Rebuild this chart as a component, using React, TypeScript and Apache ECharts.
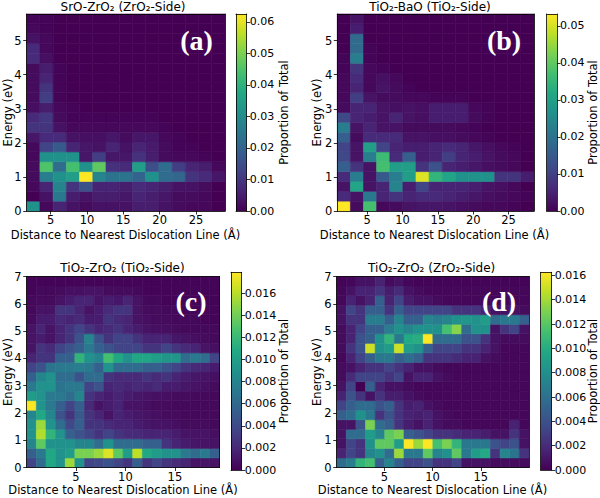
import React, { useEffect, useRef } from "react";
import * as echarts from "echarts";

const FONT = "DejaVu Sans";
const UNIT = 1e-4; // stored cell values are "proportion of total" x 10^4

const TITLES = ["SrO-ZrO₂ (ZrO₂-Side)", "TiO₂-BaO (TiO₂-Side)", "TiO₂-ZrO₂ (TiO₂-Side)", "TiO₂-ZrO₂ (ZrO₂-Side)"];
const TAGS = ["(a)", "(b)", "(c)", "(d)"];
const X_NAME = "Distance to Nearest Dislocation Line (Å)";
const Y_NAME = "Energy (eV)";
const CB_NAME = "Proportion of Total";

const X_TICKS_TOP = [5, 10, 15, 20, 25];
const X_TICKS_BOTTOM = [5, 10, 15];
const Y_TICKS_TOP = [0, 1, 2, 3, 4, 5];
const Y_TICKS_BOTTOM = [0, 1, 2, 3, 4, 5, 6, 7];
const CB_TICKS_A = [0, 0.01, 0.02, 0.03, 0.04, 0.05, 0.06];
const CB_TICKS_B = [0, 0.01, 0.02, 0.03, 0.04, 0.05];
const CB_TICKS_CD = [0, 0.002, 0.004, 0.006, 0.008, 0.01, 0.012, 0.014, 0.016];

// histogram ranges [min, max] and colour-scale maxima
const A_XRANGE = [1.7, 29.0];
const A_YRANGE = [0, 5.78];
const A_VMAX = 0.0625;
const B_XRANGE = [0.76, 28.6];
const B_YRANGE = [0, 5.78];
const B_VMAX = 0.0532;
const C_XRANGE = [0.04, 19.5];
const C_YRANGE = [0, 7];
const C_VMAX = 0.0179;
const D_XRANGE = [0.06, 20.0];
const D_YRANGE = [0, 7];
const D_VMAX = 0.01625;

// rows listed from the lowest energy bin (first) to the highest (last); x bins left to right
const A_VALUES = [
  [313, 13, 63, 31, 19, 31, 31, 31, 50, 50, 31, 19, 13, 13, 0],
  [0, 31, 250, 50, 31, 50, 50, 38, 63, 50, 38, 19, 19, 13, 0],
  [13, 63, 281, 94, 156, 63, 63, 50, 75, 63, 50, 31, 31, 19, 0],
  [19, 263, 313, 344, 625, 281, 238, 238, 200, 313, 219, 206, 94, 75, 38],
  [19, 450, 219, 438, 313, 469, 88, 75, 344, 150, 219, 113, 63, 50, 13],
  [13, 313, 313, 313, 38, 113, 38, 38, 88, 50, 19, 13, 13, 6, 0],
  [13, 125, 175, 63, 38, 31, 63, 31, 63, 44, 19, 6, 6, 0, 0],
  [38, 75, 75, 31, 25, 25, 38, 19, 38, 38, 13, 6, 0, 0, 0],
  [94, 94, 31, 13, 13, 13, 13, 13, 13, 13, 6, 0, 0, 0, 0],
  [75, 100, 19, 6, 6, 6, 6, 6, 6, 6, 0, 0, 0, 0, 0],
  [25, 50, 13, 6, 0, 0, 0, 0, 0, 0, 0, 0, 0, 0, 0],
  [19, 113, 6, 0, 0, 0, 0, 0, 0, 0, 0, 0, 0, 0, 0],
  [19, 94, 6, 0, 0, 0, 0, 0, 0, 0, 0, 0, 0, 0, 0],
  [19, 63, 6, 0, 0, 0, 0, 0, 0, 0, 0, 0, 0, 0, 0],
  [19, 50, 6, 0, 0, 0, 0, 0, 0, 0, 0, 0, 0, 0, 0],
  [75, 25, 0, 0, 0, 0, 0, 0, 0, 0, 0, 0, 0, 0, 0],
  [75, 13, 0, 0, 0, 0, 0, 0, 0, 0, 0, 0, 0, 0, 0],
  [31, 13, 0, 0, 0, 0, 0, 0, 0, 0, 0, 0, 0, 0, 0],
  [13, 6, 0, 0, 0, 0, 0, 0, 0, 0, 0, 0, 0, 0, 0],
  [6, 6, 0, 0, 0, 0, 0, 0, 0, 0, 0, 0, 0, 0, 0],
];

const B_VALUES = [
  [532, 16, 372, 11, 16, 27, 32, 32, 27, 21, 16, 11, 11, 5, 0],
  [64, 27, 213, 53, 80, 53, 64, 64, 53, 43, 32, 21, 16, 11, 5],
  [27, 309, 27, 53, 239, 43, 106, 53, 53, 53, 43, 27, 21, 11, 0],
  [64, 223, 27, 149, 223, 293, 505, 346, 309, 266, 266, 266, 80, 80, 43],
  [160, 80, 27, 372, 293, 293, 80, 133, 53, 43, 32, 21, 16, 11, 0],
  [117, 27, 223, 362, 64, 160, 43, 53, 96, 53, 43, 27, 16, 11, 0],
  [106, 27, 293, 106, 53, 43, 43, 53, 64, 53, 32, 21, 11, 5, 0],
  [160, 16, 64, 64, 64, 27, 27, 21, 21, 16, 11, 5, 0, 0, 0],
  [223, 27, 53, 27, 27, 16, 16, 16, 16, 11, 5, 0, 0, 0, 0],
  [117, 53, 43, 27, 53, 27, 21, 43, 43, 43, 16, 5, 0, 0, 0],
  [16, 53, 53, 27, 21, 27, 21, 43, 43, 43, 11, 5, 0, 0, 0],
  [11, 96, 27, 16, 16, 11, 11, 5, 5, 5, 0, 0, 0, 0, 0],
  [11, 53, 11, 27, 16, 5, 0, 0, 0, 0, 0, 0, 0, 0, 0],
  [11, 64, 11, 21, 11, 0, 0, 0, 0, 0, 0, 0, 0, 0, 0],
  [5, 80, 11, 5, 0, 0, 0, 0, 0, 0, 0, 0, 0, 0, 0],
  [5, 223, 5, 0, 0, 0, 0, 0, 0, 0, 0, 0, 0, 0, 0],
  [0, 186, 5, 0, 0, 0, 0, 0, 0, 0, 0, 0, 0, 0, 0],
  [0, 186, 0, 0, 0, 0, 0, 0, 0, 0, 0, 0, 0, 0, 0],
  [0, 43, 0, 0, 0, 0, 0, 0, 0, 0, 0, 0, 0, 0, 0],
  [0, 27, 0, 0, 0, 0, 0, 0, 0, 0, 0, 0, 0, 0, 0],
];

const C_VALUES = [
  [36, 63, 107, 90, 152, 90, 36, 39, 45, 36, 27, 54, 27, 36, 27, 21, 18, 9, 9, 9],
  [54, 72, 107, 90, 98, 143, 143, 152, 170, 134, 98, 161, 107, 98, 90, 90, 72, 63, 72, 54],
  [81, 134, 90, 90, 90, 81, 81, 63, 90, 63, 63, 63, 54, 54, 27, 18, 14, 11, 9, 9],
  [90, 158, 116, 90, 54, 45, 36, 27, 36, 27, 21, 21, 18, 18, 18, 14, 9, 9, 9, 7],
  [90, 152, 90, 63, 39, 54, 27, 27, 21, 18, 18, 14, 11, 9, 9, 7, 5, 5, 5, 4],
  [81, 107, 81, 45, 27, 50, 27, 18, 9, 18, 14, 11, 9, 7, 5, 5, 4, 4, 4, 4],
  [179, 90, 72, 54, 36, 54, 21, 9, 14, 18, 9, 9, 7, 5, 5, 4, 4, 4, 4, 4],
  [98, 90, 72, 72, 63, 81, 27, 18, 14, 18, 14, 11, 9, 7, 7, 5, 5, 4, 4, 4],
  [72, 90, 90, 68, 72, 72, 36, 45, 18, 21, 18, 21, 18, 21, 14, 14, 11, 9, 7, 5],
  [54, 81, 90, 63, 63, 45, 63, 63, 27, 21, 21, 21, 27, 21, 27, 18, 14, 11, 9, 7],
  [36, 45, 68, 72, 72, 75, 72, 54, 90, 63, 63, 63, 54, 54, 45, 36, 27, 21, 18, 14],
  [18, 27, 27, 54, 54, 116, 90, 81, 125, 107, 90, 107, 104, 98, 93, 93, 63, 72, 63, 36],
  [9, 27, 21, 36, 45, 54, 72, 54, 45, 36, 36, 36, 27, 27, 36, 27, 21, 18, 9, 7],
  [9, 14, 9, 18, 27, 45, 81, 45, 27, 36, 36, 27, 18, 18, 18, 11, 9, 7, 5, 4],
  [9, 18, 9, 18, 27, 36, 27, 18, 21, 27, 18, 14, 9, 7, 7, 5, 4, 4, 4, 4],
  [5, 14, 14, 21, 18, 21, 14, 14, 27, 21, 18, 9, 7, 5, 5, 4, 4, 4, 2, 2],
  [4, 9, 9, 27, 27, 18, 9, 14, 21, 27, 27, 9, 5, 5, 4, 4, 2, 2, 2, 2],
  [4, 5, 5, 9, 14, 18, 18, 9, 14, 11, 18, 9, 4, 4, 2, 2, 2, 2, 2, 2],
  [2, 4, 4, 5, 7, 7, 9, 9, 5, 5, 5, 4, 2, 2, 2, 2, 2, 2, 2, 2],
  [2, 2, 2, 2, 2, 2, 2, 2, 2, 2, 2, 2, 2, 2, 2, 2, 2, 2, 2, 2],
];

const D_VALUES = [
  [57, 68, 106, 114, 49, 73, 49, 33, 33, 41, 24, 24, 33, 8, 8, 8, 5, 5, 5, 5],
  [16, 33, 24, 73, 81, 57, 138, 65, 65, 122, 73, 81, 122, 65, 89, 98, 24, 73, 62, 24],
  [8, 33, 24, 81, 122, 122, 89, 162, 138, 162, 114, 130, 106, 65, 65, 65, 41, 33, 41, 8],
  [8, 57, 57, 89, 73, 122, 130, 49, 41, 33, 24, 24, 20, 16, 16, 13, 8, 8, 24, 8],
  [8, 8, 41, 130, 57, 49, 24, 13, 8, 16, 8, 5, 5, 3, 3, 3, 3, 3, 16, 3],
  [49, 57, 81, 65, 24, 41, 24, 16, 13, 16, 8, 5, 3, 3, 3, 3, 3, 3, 3, 3],
  [33, 49, 57, 57, 41, 49, 24, 13, 16, 8, 5, 3, 3, 3, 3, 3, 3, 3, 3, 3],
  [16, 41, 24, 8, 24, 13, 13, 8, 5, 3, 3, 3, 3, 3, 3, 3, 3, 3, 3, 3],
  [8, 33, 0, 49, 16, 8, 8, 5, 3, 3, 3, 3, 3, 3, 3, 3, 3, 3, 3, 3],
  [5, 20, 33, 33, 33, 24, 33, 8, 16, 16, 8, 5, 3, 3, 3, 3, 3, 3, 3, 3],
  [5, 8, 16, 24, 24, 33, 24, 16, 8, 8, 5, 3, 3, 3, 3, 3, 3, 3, 3, 3],
  [3, 16, 33, 49, 65, 65, 49, 57, 49, 24, 24, 24, 20, 16, 16, 8, 5, 3, 3, 3],
  [5, 24, 41, 150, 81, 89, 150, 89, 81, 49, 33, 33, 33, 24, 24, 16, 8, 3, 3, 3],
  [5, 16, 41, 49, 81, 106, 65, 98, 101, 162, 57, 57, 57, 41, 41, 24, 8, 5, 5, 5],
  [5, 16, 33, 49, 49, 68, 81, 73, 81, 81, 81, 114, 133, 57, 81, 81, 8, 24, 33, 8],
  [8, 24, 24, 68, 68, 49, 73, 49, 49, 73, 68, 73, 81, 85, 81, 89, 57, 65, 65, 49],
  [8, 33, 24, 49, 49, 24, 49, 33, 33, 33, 33, 33, 24, 24, 24, 16, 8, 8, 8, 5],
  [3, 16, 8, 16, 49, 16, 33, 13, 8, 8, 5, 3, 3, 3, 3, 3, 3, 3, 3, 3],
  [3, 8, 16, 16, 24, 13, 20, 8, 5, 3, 3, 3, 3, 3, 3, 3, 3, 3, 3, 3],
  [2, 3, 8, 8, 16, 5, 8, 3, 2, 2, 2, 2, 2, 2, 2, 2, 2, 2, 2, 2],
];

const VIRIDIS = ["#440154", "#482475", "#414487", "#355f8d", "#2a788e", "#21918c", "#22a884", "#44bf70", "#7ad151", "#bddf26", "#fde725"];

function hexToRgb(h: string) {
  return [parseInt(h.slice(1, 3), 16), parseInt(h.slice(3, 5), 16), parseInt(h.slice(5, 7), 16)];
}
function viridis(t: number) {
  const tt = Math.max(0, Math.min(1, t));
  const s = tt * (VIRIDIS.length - 1);
  const i = Math.min(VIRIDIS.length - 2, Math.floor(s));
  const f = s - i;
  const a = hexToRgb(VIRIDIS[i]);
  const b = hexToRgb(VIRIDIS[i + 1]);
  const c = a.map((v, k) => Math.round(v + (b[k] - v) * f));
  return `rgb(${c[0]},${c[1]},${c[2]})`;
}

const PANELS = [
  {
    values: A_VALUES, xr: A_XRANGE, yr: A_YRANGE, vmax: A_VMAX, xt: X_TICKS_TOP, yt: Y_TICKS_TOP, cbt: CB_TICKS_A, dig: 2,
    grid: { left: 26.7, top: 14, width: 198.3, height: 197 },
    cb: { left: 236, top: 14, width: 10.7, height: 197 },
    title: [123, 6.5], xName: [125.5, 235], yName: [8.3, 112.5], cbName: [283.5, 112.5], tag: [196.5, 40],
  },
  {
    values: B_VALUES, xr: B_XRANGE, yr: B_YRANGE, vmax: B_VMAX, xt: X_TICKS_TOP, yt: Y_TICKS_TOP, cbt: CB_TICKS_B, dig: 2,
    grid: { left: 337.3, top: 14, width: 196.7, height: 197 },
    cb: { left: 546.7, top: 14, width: 10.3, height: 197 },
    title: [430, 6.5], xName: [434.5, 235], yName: [316.7, 112.5], cbName: [593.2, 112.5], tag: [504, 40],
  },
  {
    values: C_VALUES, xr: C_XRANGE, yr: C_YRANGE, vmax: C_VMAX, xt: X_TICKS_BOTTOM, yt: Y_TICKS_BOTTOM, cbt: CB_TICKS_CD, dig: 3,
    grid: { left: 26.7, top: 276.5, width: 192.8, height: 191 },
    cb: { left: 231, top: 272.3, width: 10.7, height: 197.7 },
    title: [122.5, 268.3], xName: [123, 490], yName: [8.3, 372], cbName: [283.5, 371], tag: [191, 301],
  },
  {
    values: D_VALUES, xr: D_XRANGE, yr: D_YRANGE, vmax: D_VMAX, xt: X_TICKS_BOTTOM, yt: Y_TICKS_BOTTOM, cbt: CB_TICKS_CD, dig: 3,
    grid: { left: 336.7, top: 276.5, width: 192.3, height: 191 },
    cb: { left: 540.7, top: 272.3, width: 11, height: 197.7 },
    title: [431.7, 268.3], xName: [432.5, 490], yName: [316.7, 372], cbName: [593.2, 371], tag: [499, 301],
  },
];

const LINE = { color: "#000", width: 0.8 };
const LABEL = { fontFamily: FONT, fontSize: 11.5, color: "#000" };

function buildOption() {
  const grid: any[] = [];
  const xAxis: any[] = [];
  const yAxis: any[] = [];
  const series: any[] = [];
  const graphic: any[] = [];

  PANELS.forEach((p, i) => {
    const gMain = grid.length;
    grid.push({ ...p.grid, containLabel: false });
    const gCb = grid.length;
    grid.push({ ...p.cb, containLabel: false });

    const xb = xAxis.length;
    xAxis.push({
      type: "value", gridIndex: gMain, min: p.xr[0], max: p.xr[1], position: "bottom", z: 10,
      axisLine: { show: true, onZero: false, lineStyle: LINE },
      axisTick: { show: true, length: 3.5, lineStyle: LINE, customValues: p.xt },
      axisLabel: { show: true, ...LABEL, margin: 3, customValues: p.xt },
      splitLine: { show: false },
    });
    xAxis.push({
      type: "value", gridIndex: gMain, min: p.xr[0], max: p.xr[1], position: "top", z: 10,
      axisLine: { show: true, onZero: false, lineStyle: LINE },
      axisTick: { show: false }, axisLabel: { show: false }, splitLine: { show: false },
    });
    const xcb = xAxis.length;
    xAxis.push({
      type: "value", gridIndex: gCb, min: 0, max: 1, position: "bottom", z: 10,
      axisLine: { show: true, onZero: false, lineStyle: LINE },
      axisTick: { show: false }, axisLabel: { show: false }, splitLine: { show: false },
    });
    xAxis.push({
      type: "value", gridIndex: gCb, min: 0, max: 1, position: "top", z: 10,
      axisLine: { show: true, onZero: false, lineStyle: LINE },
      axisTick: { show: false }, axisLabel: { show: false }, splitLine: { show: false },
    });

    const yl = yAxis.length;
    yAxis.push({
      type: "value", gridIndex: gMain, min: p.yr[0], max: p.yr[1], position: "left", z: 10,
      axisLine: { show: true, onZero: false, lineStyle: LINE },
      axisTick: { show: true, length: 3.5, lineStyle: LINE, customValues: p.yt },
      axisLabel: { show: true, ...LABEL, margin: 5, customValues: p.yt },
      splitLine: { show: false },
    });
    yAxis.push({
      type: "value", gridIndex: gMain, min: p.yr[0], max: p.yr[1], position: "right", z: 10,
      axisLine: { show: true, onZero: false, lineStyle: LINE },
      axisTick: { show: false }, axisLabel: { show: false }, splitLine: { show: false },
    });
    yAxis.push({
      type: "value", gridIndex: gCb, min: 0, max: p.vmax, position: "left", z: 10,
      axisLine: { show: true, onZero: false, lineStyle: LINE },
      axisTick: { show: false }, axisLabel: { show: false }, splitLine: { show: false },
    });
    const ycb = yAxis.length;
    yAxis.push({
      type: "value", gridIndex: gCb, min: 0, max: p.vmax, position: "right", z: 10,
      axisLine: { show: true, onZero: false, lineStyle: LINE },
      axisTick: { show: true, length: 3.5, lineStyle: LINE, customValues: p.cbt },
      axisLabel: {
        show: true, ...LABEL, fontSize: 11, margin: 3, customValues: p.cbt,
        formatter: (v: number) => v.toFixed(p.dig),
      },
      splitLine: { show: false },
    });

    // histogram cells
    const nRows = p.values.length;
    const nCols = p.values[0].length;
    const dx = (p.xr[1] - p.xr[0]) / nCols;
    const dy = (p.yr[1] - p.yr[0]) / nRows;
    const data: number[][] = [];
    p.values.forEach((row, r) => {
      row.forEach((v, c) => {
        data.push([p.xr[0] + c * dx, p.xr[0] + (c + 1) * dx, p.yr[0] + r * dy, p.yr[0] + (r + 1) * dy, v * UNIT]);
      });
    });
    const vmax = p.vmax;
    series.push({
      type: "custom", xAxisIndex: xb, yAxisIndex: yl, silent: true, z: 2,
      encode: { x: [0, 1], y: [2, 3] },
      data,
      renderItem: (params: any, api: any) => {
        const p0 = api.coord([api.value(0), api.value(2)]);
        const p1 = api.coord([api.value(1), api.value(3)]);
        const col = viridis(api.value(4) / vmax);
        return {
          type: "rect",
          shape: { x: p0[0], y: p1[1], width: p1[0] - p0[0], height: p0[1] - p1[1] },
          style: { fill: col, stroke: col, lineWidth: 0.6 },
        };
      },
    });
    // colorbar
    series.push({
      type: "custom", xAxisIndex: xcb, yAxisIndex: ycb, silent: true, z: 2,
      encode: { x: [0, 1], y: [2, 3] },
      data: [[0, 1, 0, vmax]],
      renderItem: (params: any, api: any) => {
        const p0 = api.coord([api.value(0), api.value(2)]);
        const p1 = api.coord([api.value(1), api.value(3)]);
        return {
          type: "rect",
          shape: { x: p0[0], y: p1[1], width: p1[0] - p0[0], height: p0[1] - p1[1] },
          style: {
            fill: new echarts.graphic.LinearGradient(0, 1, 0, 0,
              VIRIDIS.map((c, k) => ({ offset: k / (VIRIDIS.length - 1), color: c }))),
          },
        };
      },
    });

    const txt = (pos: number[], text: string, size: number, rot = 0, extra: any = {}) => ({
      type: "text", x: pos[0], y: pos[1], rotation: rot, z: 20,
      style: {
        text, fontFamily: FONT, fontSize: size, fill: "#000",
        align: "center", verticalAlign: "middle", textAlign: "center", textVerticalAlign: "middle",
        ...extra,
      },
    });
    graphic.push(txt(p.title, TITLES[i], 12));
    graphic.push(txt(p.xName, X_NAME, 11.5));
    graphic.push(txt(p.yName, Y_NAME, 11.5, Math.PI / 2));
    graphic.push(txt(p.cbName, CB_NAME, 11.5, Math.PI / 2));
    graphic.push(txt(p.tag, TAGS[i], 28, 0, { fontFamily: "Liberation Serif", fontWeight: "bold", fill: "#fff" }));
  });

  return { animation: false, backgroundColor: "#fff", grid, xAxis, yAxis, series, graphic };
}

export default function App() {
  const ref = useRef<HTMLDivElement>(null);
  useEffect(() => {
    if (!ref.current) return;
    const chart = echarts.init(ref.current, undefined, { renderer: "svg" });
    chart.setOption(buildOption() as any);
    return () => chart.dispose();
  }, []);
  return <div ref={ref} style={{ position: "fixed", left: 0, top: 0, width: 600, height: 498, background: "#fff" }} />;
}
